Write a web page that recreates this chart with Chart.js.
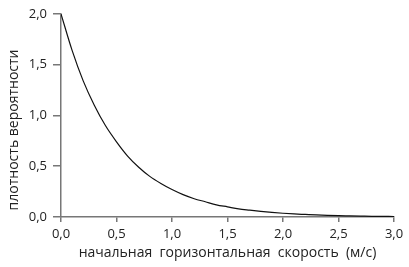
<!DOCTYPE html>
<html><head><meta charset="utf-8">
<script src="https://cdn.jsdelivr.net/npm/chart.js@4"></script>
<style>html,body{margin:0;padding:0;background:#fff}#w{width:409px;height:267px}</style>
</head><body><div id="w"><canvas id="c"></canvas></div>
<script>
const speeds = [0,0.1,0.2,0.3,0.4,0.5,0.6,0.7,0.8,0.9,1.0,1.1,1.2,1.3,1.4,1.5,1.6,1.7,1.8,1.9,2.0,2.1,2.2,2.3,2.4,2.5,2.6,2.7,2.8,2.9,3.0];
const density = [2.00,1.64,1.34,1.10,0.90,0.74,0.60,0.49,0.40,0.33,0.27,0.22,0.18,0.15,0.12,0.10,0.08,0.067,0.055,0.045,0.037,0.030,0.025,0.020,0.016,0.013,0.011,0.009,0.007,0.006,0.005];
const xTickLabels = ['0,0','0,5','1,0','1,5','2,0','2,5','3,0'];
const yTickLabels = ['0,0','0,5','1,0','1,5','2,0'];
const xTitle = 'начальная  горизонтальная  скорость  (м/с)';
const yTitle = 'плотность вероятности';

const tickFont = {family:'Open Sans', size:13};
const titleFont = {family:'Open Sans', size:14};
new Chart(document.getElementById('c'), {
  type:'line',
  data:{datasets:[{data:speeds.map((x,i)=>({x, y:density[i]})), borderColor:'#111', borderWidth:1.2, pointRadius:0, cubicInterpolationMode:'monotone', fill:false}]},
  options:{
    responsive:true, maintainAspectRatio:false, animation:false,
    layout:{padding:{top:10,right:15,left:0,bottom:0}},
    plugins:{legend:{display:false}, tooltip:{enabled:false}},
    scales:{
      x:{type:'linear', min:0, max:3,
        ticks:{stepSize:0.5, color:'#222', font:tickFont, padding:4, maxRotation:0,
          callback:(v)=>xTickLabels[Math.round(v/0.5)]},
        grid:{drawOnChartArea:false, drawTicks:true, tickLength:5, color:'#777', lineWidth:1.5},
        border:{display:true, color:'#777', width:1.5},
        title:{display:true, text:xTitle, color:'#222', font:titleFont, padding:{top:0,bottom:6}},
        afterFit:(s)=>{s.height=50;}
      },
      y:{min:0, max:2,
        ticks:{stepSize:0.5, color:'#222', font:tickFont, padding:6,
          callback:(v)=>yTickLabels[Math.round(v/0.5)]},
        grid:{drawOnChartArea:false, drawTicks:true, tickLength:8, color:'#777', lineWidth:1.5},
        border:{display:true, color:'#777', width:1.5},
        title:{display:true, text:yTitle + '        ', color:'#222', font:titleFont, padding:{top:6,bottom:0}},
        afterFit:(s)=>{s.width=61;}
      }
    }
  }
});
</script></body></html>
